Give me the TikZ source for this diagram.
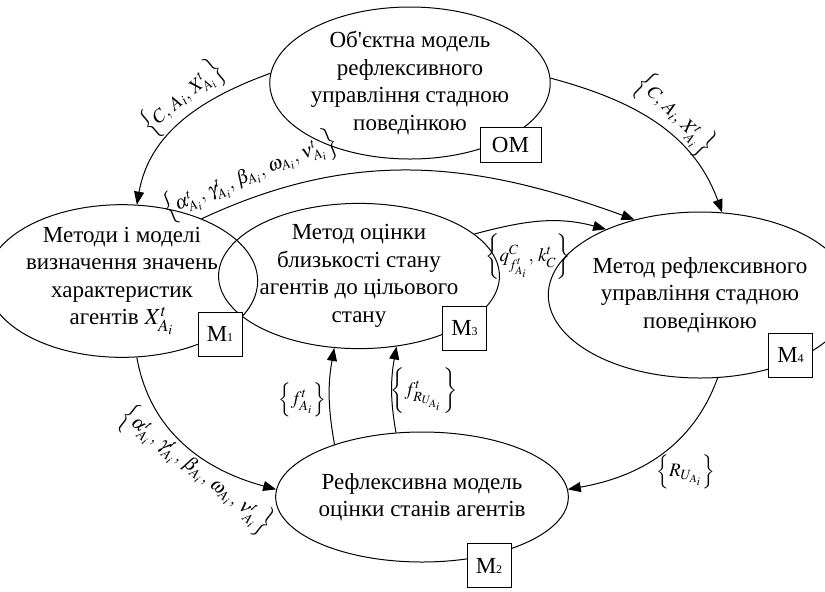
\documentclass[tikz,border=0pt]{standalone}
\usepackage{mathptmx}
\usepackage{fontspec}
\setmainfont{Liberation Serif}
\usetikzlibrary{shapes.geometric}
\usetikzlibrary{arrows.meta}

\begin{document}
\begin{tikzpicture}[x=0.5pt,y=0.5pt,
	  every node/.style={font=\fontsize{11.5}{13.75}\selectfont},
	  block/.style={ellipse,draw,line width=0.5pt,inner sep=0pt,align=center},
	  mbox/.style={draw,fill=white,line width=0.5pt,inner sep=0pt,minimum size=22},
	  flow/.style={line width=0.5pt,-{Triangle[length=6.5pt,width=5pt]}},
	  lbl/.style={inner sep=0.5pt,font=\fontsize{9.5}{11}\selectfont}]
	  \useasboundingbox (0,0) rectangle (825,-591);
	  % ellipses
	  \node[block,minimum width=131,minimum height=76] (om) at (410,-83)
	    {Об\textquotesingle{}єктна модель\\рефлексивного\\управління стадною\\поведінкою};
	  \node[block,minimum width=115,minimum height=76] (m1) at (122,-281)
	    {Методи і моделі\\визначення значень\\характеристик\\агентів $X^t_{A_i}$};
	  \node[block,minimum width=128,minimum height=64] (m3) at (359,-276)
	    {Метод оцінки\\близькості стану\\агентів до цільового\\стану};
	  \node[block,minimum width=118,minimum height=83] (m4) at (700,-295)
	    {Метод рефлексивного\\управління стадною\\поведінкою};
	  \node[block,minimum width=115,minimum height=65] (m2) at (422,-497)
	    {Рефлексивна модель\\оцінки станів агентів};
	  % boxes
	  \node[mbox,minimum width=30.5,minimum height=17.5] (bom) at (510.5,-144.5) {ОМ};
	  \foreach \n/\x/\y in {1/220/-334, 3/464.5/-328.5, 4/790.5/-355, 2/489/-565.5} {
	    \node[mbox] (b\n) at (\x,\y) {М{\fontsize{6}{6}\selectfont\n}};
	  };
	  % connectors
	  \draw[flow] (om.176) to[out=200,in=80] (m1.79);
	  \draw[flow] (om.2) to[out=-15,in=110] (m4.75);
	  \draw[flow] (m1.38) to[out=25,in=160] (m4.131);
	  \draw[flow] (m3.20) to[out=15,in=165] (m4.145);
	  \draw[flow] (m1.-79) to[out=-80,in=165] (m2.177);
	  \draw[flow] (m4.-78) to[out=-110,in=10] (m2.3);
	  \draw[flow] (m2.149) to[out=100,in=-100] (m3.-109);
	  \draw[flow] (m2.112) to[out=100,in=-100] (m3.-62);
	  % labels
	  \node[lbl,rotate=40] (l1) at (183,-98) {$\left\{C,\,A_i,\,X^t_{A_i}\right\}$};
	  \node[lbl,rotate=-45] (l2) at (675,-115) {$\left\{C,\,A_i,\,X^t_{A_i}\right\}$};
	  \node[lbl,rotate=22] (l3) at (250,-176)
	    {$\left\{\alpha^t_{A_i},\,\gamma^t_{A_i},\,\beta_{A_i},\,\omega_{A_i},\,\nu^t_{A_i}\right\}$};
	  \node[lbl] (l4) at (528,-257) {$\left\{q^C_{f^t_{A_i}},\,k^t_C\right\}$};
	  \node[lbl,rotate=-38] (l5) at (196,-470)
	    {$\left\{\alpha^t_{A_i},\,\gamma^t_{A_i},\,\beta_{A_i},\,\omega_{A_i},\,\nu^t_{A_i}\right\}$};
	  \node[lbl] (l6) at (686,-472) {$\left\{R_{U_{A_i}}\right\}$};
	  \node[lbl] (l7) at (302,-400) {$\left\{f^t_{A_i}\right\}$};
	  \node[lbl] (l8) at (424,-391) {$\left\{f^t_{R_{U_{A_i}}}\right\}$};
	\end{tikzpicture}
\end{document}
